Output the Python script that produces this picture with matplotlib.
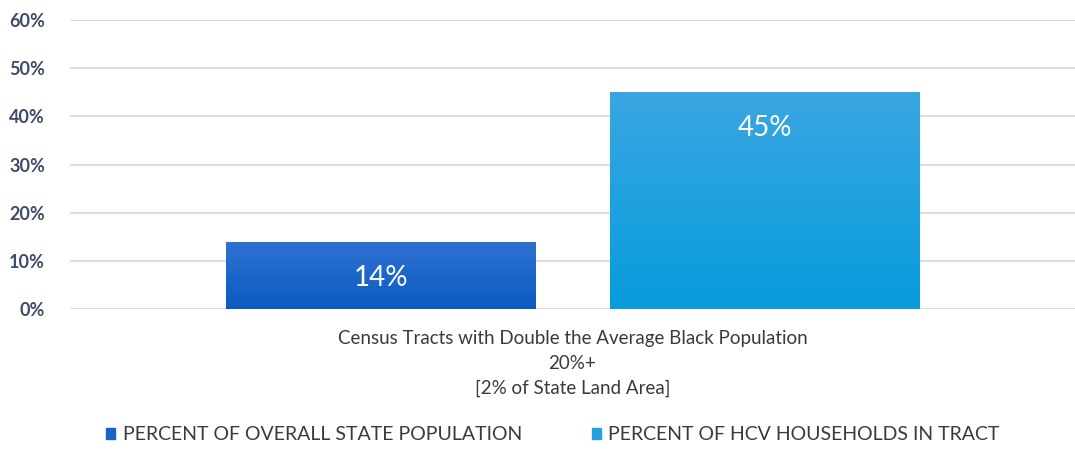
import matplotlib
matplotlib.use("Agg")
import matplotlib.pyplot as plt
import numpy as np
from matplotlib.colors import LinearSegmentedColormap
from matplotlib.patches import Rectangle

series = ["PERCENT OF OVERALL STATE POPULATION", "PERCENT OF HCV HOUSEHOLDS IN TRACT"]
values = [0.14, 0.45]
value_labels = ["14%", "45%"]
category_label = "Census Tracts with Double the Average Black Population\n20%+\n[2% of State Land Area]"
yticks = [0.0, 0.1, 0.2, 0.3, 0.4, 0.5, 0.6]
ytick_labels = ["0%", "10%", "20%", "30%", "40%", "50%", "60%"]

top_colors = ["#2F72D2", "#3AA6E2"]
bot_colors = ["#0A5BC2", "#079CDC"]
legend_colors = ["#1763C8", "#22A2E0"]

fig = plt.figure(figsize=(10.75, 4.51), dpi=100)
ax = fig.add_axes([70/1075, (451-309)/451, 1005/1075, (309-20)/451])

width = 0.308
offsets = [-0.191, 0.191]
bars = ax.bar(offsets, values, width=width, color="none", zorder=3)
for i, b in enumerate(bars):
    x0, y0 = b.get_x(), b.get_y()
    w, h = b.get_width(), b.get_height()
    cmap = LinearSegmentedColormap.from_list("g%d" % i, [bot_colors[i], top_colors[i]])
    grad = np.linspace(0, 1, 256).reshape(-1, 1)
    im = ax.imshow(grad, extent=[x0, x0 + w, y0, y0 + h], origin="lower",
                   aspect="auto", cmap=cmap, zorder=3)
    im.set_clip_path(b)
    ax.text(x0 + w/2, h - 0.075, value_labels[i], ha="center", va="center",
            color="white", fontsize=20, family="Lato", zorder=4)

ax.set_xlim(-0.5, 0.5)
ax.set_ylim(0, 0.6)
ax.set_yticks(yticks)
ax.set_yticklabels(ytick_labels, family="Lato", fontsize=13, color="#3E4C6A", fontweight="bold")
ax.set_xticks([0])
ax.set_xticklabels([category_label], family="Lato", fontsize=13.5, color="#3a3a3a",
                   linespacing=1.55)
ax.tick_params(axis="both", length=0)
ax.tick_params(axis="y", pad=18)
ax.tick_params(axis="x", pad=15)
ax.grid(axis="y", color="#D9DEE5", linewidth=1.5, zorder=0)
for s in ax.spines.values():
    s.set_visible(False)

handles = [Rectangle((0, 0), 1, 1, color=c) for c in legend_colors]
fig.legend(handles, series, loc="center", bbox_to_anchor=(553/1075, 1 - 435/451),
           ncol=2, frameon=False, handlelength=0.45, handleheight=0.45,
           handletextpad=0.4, columnspacing=3.6,
           prop={"family": "Lato", "size": 14}, labelcolor="#3a3a3a")

fig.savefig("out.png", dpi=100)
